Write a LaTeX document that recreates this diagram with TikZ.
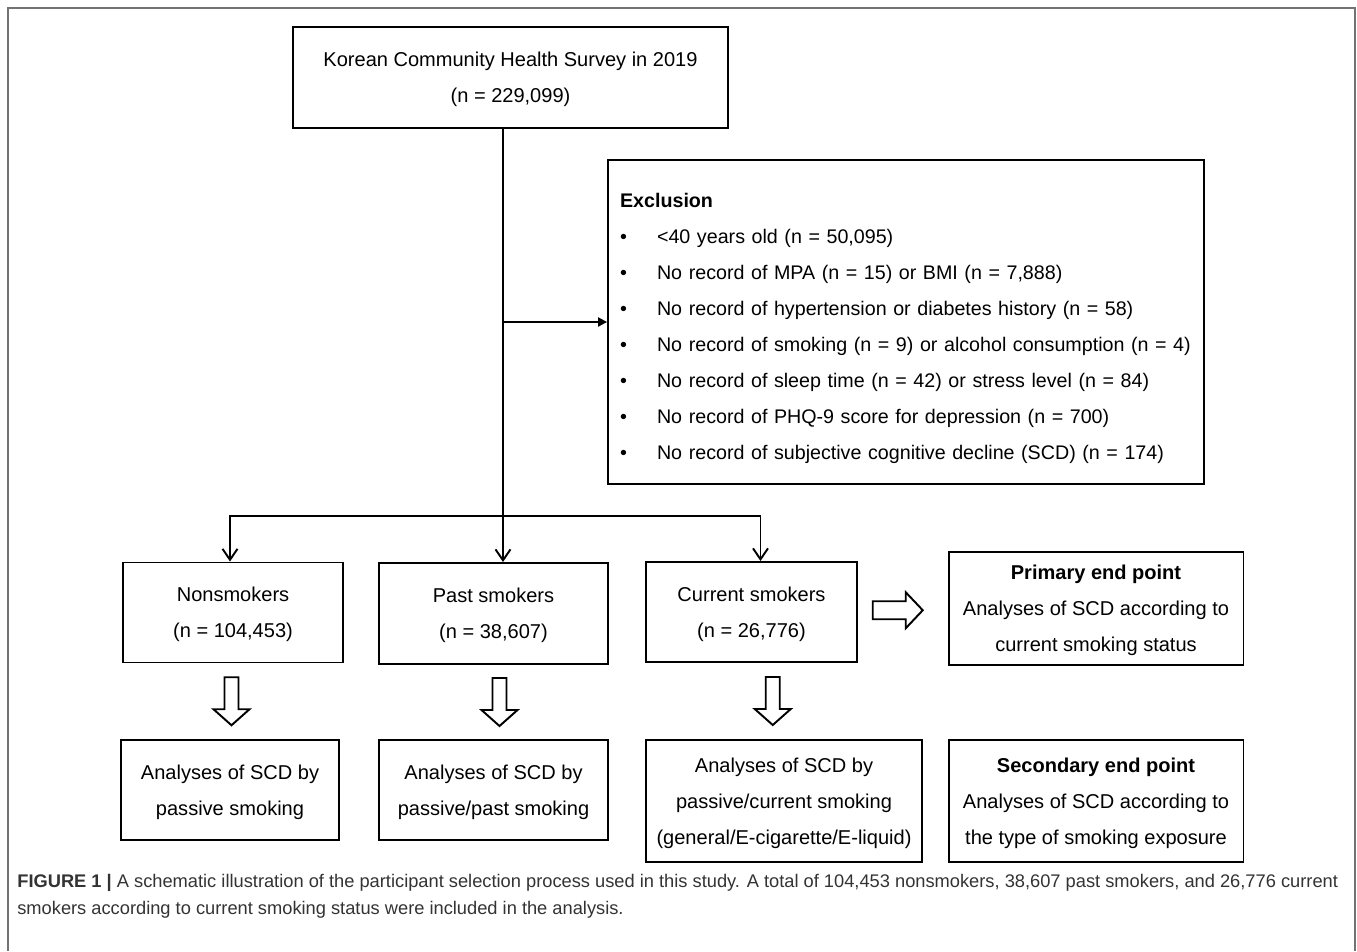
\documentclass[tikz,border=0pt]{standalone}
\usepackage{fontspec}
\setmainfont{Liberation Sans}
\usepackage{tikz}
\usetikzlibrary{positioning}
\usetikzlibrary{calc}
\usetikzlibrary{arrows.meta}
\usepackage{xcolor}
\definecolor{framegray}{gray}{0.45}
\definecolor{capgray}{gray}{0.2}
\newcommand{\bul}{\makebox[0.74cm][l]{\textbullet}}

\tikzset{
    box/.style={draw, line width=1.1pt, align=center, inner sep=0pt, text depth=-6pt, font=\fontsize{11.4}{20.5}\selectfont},
    exbox/.style={draw, line width=1.1pt, align=left, inner xsep=0.24cm, text width=11.44cm, minimum height=6.48cm, font=\fontsize{11.2}{20.5}\selectfont, execute at begin node={\rule{0pt}{15pt}}},
    arr/.style={line width=1.1pt, -{Straight Barb[length=0.22cm,width=0.3cm]}},
    tri/.style={line width=1.1pt, -{Triangle[length=0.18cm,width=0.18cm]}},
    fat/.style={draw, line width=1.1pt, fill=white, line join=miter}
}

\begin{document}
\begin{tikzpicture}[x=0.02cm, y=-0.02cm]
        \useasboundingbox (0,0) rectangle (1357,951);
        \draw[framegray, line width=1pt] (8,951) -- (8,8) -- (1355,8) -- (1355,951);

        \node[box, minimum width=8.7cm, minimum height=2.02cm] (survey) at (510.5,77.5) {Korean Community Health Survey in 2019\\(n = 229,099)};
        \node[exbox] (excl) at (906,322) {\textbf{Exclusion}\\
            \bul <40 years old (n = 50,095)\\
            \bul No record of MPA (n = 15) or BMI (n = 7,888)\\
            \bul No record of hypertension or diabetes history (n = 58)\\
            \bul \mbox{No record of smoking (n = 9) or alcohol consumption (n = 4)}\\
            \bul No record of sleep time (n = 42) or stress level (n = 84)\\
            \bul No record of PHQ-9 score for depression (n = 700)\\
            \bul No record of subjective cognitive decline (SCD) (n = 174)};

        \node[box, minimum width=4.4cm, minimum height=2cm] (non) at (233,612.5) {Nonsmokers\\(n = 104,453)};
        \node[box, minimum width=4.58cm, minimum height=2.02cm] (past) at (493.5,613.5) {Past smokers\\(n = 38,607)};
        \node[box, minimum width=4.22cm, minimum height=2cm] (curr) at (751.5,612) {Current smokers\\(n = 26,776)};
        \node[box, minimum width=5.9cm, minimum height=2.26cm] (prim) at (1096,608.5) {\textbf{Primary end point}\\Analyses of SCD according to\\current smoking status};

        \node[box, minimum width=4.36cm, minimum height=2cm] (ana1) at (230,790) {Analyses of SCD by\\passive smoking};
        \node[box, minimum width=4.58cm, minimum height=2cm] (ana2) at (493.5,790) {Analyses of SCD by\\passive/past smoking};
        \node[box, minimum width=5.52cm, minimum height=2.44cm] (ana3) at (784,801) {Analyses of SCD by\\passive/current smoking\\(general/E-cigarette/E-liquid)};
        \node[box, minimum width=5.9cm, minimum height=2.44cm] (ana4) at (1096,801) {\textbf{Secondary end point}\\Analyses of SCD according to\\the type of smoking exposure};

        % split below the survey box
        \coordinate (split) at (503,516);
        \draw[line width=1.1pt] (survey.south -| split) -- (split);
        \draw[tri] (split |- excl.west) -- (excl.west);
        \draw[arr] (split) -- (split |- past.north);
        \draw[arr] (split) -| ([xshift=-0.06cm]non.north);
        \draw[arr] (split) -| ([xshift=0.18cm]curr.north);

        % hollow block arrows
        \foreach \a/\b/\s in {non/ana1/0, past/ana2/6, curr/ana3/5}
        {
            \draw[fat] ($(\a.south)!0.5!(\b.north)$) ++(\s-7,-24) -- ++(14,0) -- ++(0,32) -- ++(11,0) -- ++(-18,16) -- ++(-18,-16) -- ++(11,0) -- cycle;
        }
        \draw[fat] ($(curr.east)!0.5!(prim.west)$) ++(-30,-9) -- ++(33,0) -- ++(0,-9) -- ++(17,18) -- ++(-17,18) -- ++(0,-9) -- ++(-33,0) -- cycle;

        \node[anchor=north west, inner sep=0pt, align=left, text=capgray, font=\fontsize{10.4}{15.3}\selectfont] (caption) at (17,874) {\textbf{FIGURE 1 |} A schematic illustration of the participant selection process used in this study. A total of 104,453 nonsmokers, 38,607 past smokers, and 26,776 current\\smokers according to current smoking status were included in the analysis.};
    \end{tikzpicture}
\end{document}
